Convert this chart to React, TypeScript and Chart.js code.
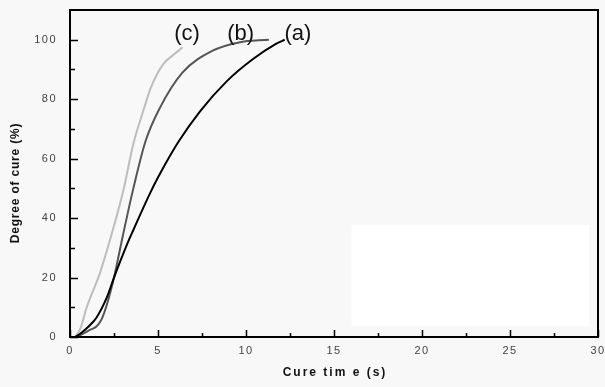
import React, { useEffect, useRef } from "react";
import { Chart, registerables } from "chart.js";
Chart.register(...registerables);

// Curve (a) – black
const aTime = [0.3, 0.6, 1.1, 1.5, 2.1, 2.5, 3.3, 3.6, 4.6, 5.4, 6.2, 7.4, 8.9, 10.4, 11.7, 12.2];
const aCure = [0, 1.2, 3.8, 6.5, 13.4, 20, 32, 36, 49, 58, 66, 76, 86, 93.5, 98.6, 100];
// Curve (b) – dark grey
const bTime = [0.3, 0.7, 1.1, 1.5, 1.8, 2.1, 2.5, 3.0, 3.6, 4.3, 5.1, 6.4, 8.1, 9.6, 11.3];
const bCure = [0, 1, 2.3, 3.5, 6, 11, 20, 34, 50, 66, 77, 89, 96.3, 99.1, 100];
// Curve (c) – light grey
const cTime = [0.3, 0.6, 0.95, 1.7, 2.27, 3.02, 3.6, 4.16, 4.6, 5.3, 5.9, 6.4];
const cCure = [0, 3, 10, 21.5, 32.6, 49, 65, 76, 84, 91.8, 95, 97.5];

const xTicks = [0, 5, 10, 15, 20, 25, 30];
const xMinorTicks = [2.5, 7.5, 12.5, 17.5, 22.5, 27.5];
const yTicks = [0, 20, 40, 60, 80, 100];
const yMinorTicks = [10, 30, 50, 70, 90];

const curveLabels = ["(a)", "(b)", "(c)"];
const curveLabelX = [12.95, 9.7, 6.65];
const curveLabelY = [102, 102, 102];

const xTitle = "Cure tim e (s)";
const yTitle = "Degree of cure (%)";

const toPts = (xs: number[], ys: number[]) => xs.map((x, i) => ({ x, y: ys[i] }));

const decor = {
  id: "decor",
  beforeDraw(chart: any) {
    const { ctx, width, height } = chart;
    const xs = chart.scales.x;
    const ys = chart.scales.y;
    ctx.save();
    ctx.fillStyle = "#f8f8f8";
    ctx.fillRect(0, 0, width, height);
    // blank white patch in the lower right of the plot
    const x1 = xs.getPixelForValue(16);
    const x2 = xs.getPixelForValue(29.5);
    const y1 = ys.getPixelForValue(37.6);
    const y2 = ys.getPixelForValue(3.7);
    ctx.fillStyle = "#ffffff";
    ctx.fillRect(x1, y1, x2 - x1, y2 - y1);
    ctx.restore();
    ctx.letterSpacing = "1.5px";
  },
  afterDraw(chart: any) {
    const { ctx, chartArea } = chart;
    const xs = chart.scales.x;
    const ys = chart.scales.y;
    ctx.letterSpacing = "0px";
    ctx.save();
    ctx.strokeStyle = "#000";
    ctx.lineWidth = 2;
    ctx.strokeRect(chartArea.left, chartArea.top, chartArea.right - chartArea.left, chartArea.bottom - chartArea.top);
    ctx.lineWidth = 1.5;
    ctx.beginPath();
    xTicks.forEach((v) => {
      const p = Math.round(xs.getPixelForValue(v)) + 0.5;
      ctx.moveTo(p, chartArea.bottom);
      ctx.lineTo(p, chartArea.bottom - 7);
    });
    xMinorTicks.forEach((v) => {
      const p = Math.round(xs.getPixelForValue(v)) + 0.5;
      ctx.moveTo(p, chartArea.bottom);
      ctx.lineTo(p, chartArea.bottom - 4);
    });
    yTicks.forEach((v) => {
      const p = Math.round(ys.getPixelForValue(v)) + 0.5;
      ctx.moveTo(chartArea.left, p);
      ctx.lineTo(chartArea.left + 8, p);
    });
    yMinorTicks.forEach((v) => {
      const p = Math.round(ys.getPixelForValue(v)) + 0.5;
      ctx.moveTo(chartArea.left, p);
      ctx.lineTo(chartArea.left + 5, p);
    });
    ctx.stroke();

    // axis titles
    ctx.fillStyle = "#111";
    ctx.textAlign = "center";
    ctx.textBaseline = "middle";
    ctx.font = "bold 12px 'Liberation Sans', Arial, sans-serif";
    ctx.letterSpacing = "2px";
    ctx.fillText(xTitle, (chartArea.left + chartArea.right) / 2 + 1, 373);
    ctx.save();
    ctx.translate(16, 183);
    ctx.rotate(-Math.PI / 2);
    ctx.letterSpacing = "0.8px";
    ctx.fillText(yTitle, 0, 0);
    ctx.restore();

    // curve labels
    ctx.letterSpacing = "0px";
    ctx.font = "22px 'Liberation Sans', Arial, sans-serif";
    ctx.fillStyle = "#111";
    curveLabels.forEach((t, i) => {
      ctx.fillText(t, xs.getPixelForValue(curveLabelX[i]), ys.getPixelForValue(curveLabelY[i]));
    });
    ctx.restore();
  },
};

export default function App() {
  const ref = useRef<HTMLCanvasElement>(null);
  useEffect(() => {
    document.body.style.margin = "0";
    const chart = new Chart(ref.current as HTMLCanvasElement, {
      type: "line",
      data: {
        datasets: [
          { label: "(a)", data: toPts(aTime, aCure), borderColor: "#000000", borderWidth: 2, pointRadius: 0, cubicInterpolationMode: "monotone", fill: false },
          { label: "(b)", data: toPts(bTime, bCure), borderColor: "#555555", borderWidth: 2, pointRadius: 0, cubicInterpolationMode: "monotone", fill: false },
          { label: "(c)", data: toPts(cTime, cCure), borderColor: "#bdbdbd", borderWidth: 2, pointRadius: 0, cubicInterpolationMode: "monotone", fill: false },
        ],
      },
      options: {
        responsive: false,
        animation: false,
        layout: { padding: { top: 10, right: 7, left: 0, bottom: 0 } },
        plugins: { legend: { display: false }, tooltip: { enabled: false } },
        scales: {
          x: {
            type: "linear",
            min: 0,
            max: 30,
            grid: { display: false, drawTicks: false },
            border: { display: false },
            afterBuildTicks: (s: any) => { s.ticks = xTicks.map((v) => ({ value: v })); },
            afterFit: (s: any) => { s.height = 50; s.paddingLeft = 0; s.paddingRight = 0; },
            ticks: { padding: 7, color: "#444", font: { family: "'Liberation Sans', Arial, sans-serif", size: 11 }, maxRotation: 0 },
          },
          y: {
            type: "linear",
            min: 0,
            max: 110,
            grid: { display: false, drawTicks: false },
            border: { display: false },
            afterBuildTicks: (s: any) => { s.ticks = yTicks.map((v) => ({ value: v })); },
            afterFit: (s: any) => { s.width = 70; s.paddingTop = 0; s.paddingBottom = 0; },
            ticks: { padding: 13, color: "#444", font: { family: "'Liberation Sans', Arial, sans-serif", size: 11 } },
          },
        },
      },
      plugins: [decor],
    } as any);
    return () => chart.destroy();
  }, []);
  return <canvas ref={ref} width={605} height={387} style={{ display: "block" }} />;
}
